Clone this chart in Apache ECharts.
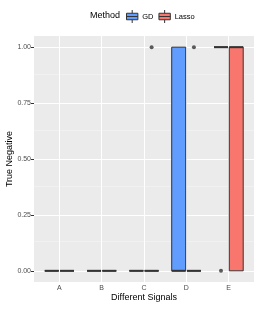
<!DOCTYPE html>
<html><head><meta charset="utf-8">
<script src="https://cdn.jsdelivr.net/npm/echarts@6/dist/echarts.min.js"></script>
<style>html,body{margin:0;padding:0;background:#fff}#c{width:258px;height:309px}</style>
</head><body><div id="c"></div>
<script>
const categories = ['A','B','C','D','E'];
const methods = ['GD','Lasso'];
const methodColors = ['#619CFF','#F8766D'];
// per category: [min, q1, median, q3, max]
const gdStats = [[0,0,0,0,0],[0,0,0,0,0],[0,0,0,0,0],[0,0,0,1,1],[1,1,1,1,1]];
const lassoStats = [[0,0,0,0,0],[0,0,0,0,0],[0,0,0,0,0],[0,0,0,0,0],[0,0,1,1,1]];
const gdOutliers = [[],[],[],[],[0]];
const lassoOutliers = [[],[],[1],[1],[]];
const yTicks = [0,0.25,0.5,0.75,1];
const yMinor = [0.125,0.375,0.625,0.875];

const FONT = 'Liberation Sans, Arial, sans-serif';
const dodge = [-0.18, 0.18];
const halfW = 0.165;
const xPos = categories.map((c,i)=>i+1);

function boxRender(offset){
  return function(params, api){
    const x = api.value(0) + offset;
    const mn = api.value(1), q1 = api.value(2), md = api.value(3), q3 = api.value(4), mx = api.value(5);
    const pL = api.coord([x - halfW, q3]);
    const pR = api.coord([x + halfW, q1]);
    const xc = api.coord([x, 0])[0];
    const ch = [];
    const ls = {stroke:'#333333', lineWidth:1};
    if (mx > q3) ch.push({type:'line', shape:{x1:xc,y1:api.coord([x,q3])[1],x2:xc,y2:api.coord([x,mx])[1]}, style:ls});
    if (mn < q1) ch.push({type:'line', shape:{x1:xc,y1:api.coord([x,q1])[1],x2:xc,y2:api.coord([x,mn])[1]}, style:ls});
    ch.push({type:'rect', shape:{x:pL[0], y:pL[1], width:pR[0]-pL[0], height:pR[1]-pL[1]},
      style:{fill:api.visual('color'), stroke:'#333333', lineWidth:1}});
    const ym = api.coord([x, md])[1];
    ch.push({type:'line', shape:{x1:pL[0], y1:ym, x2:pR[0], y2:ym}, style:{stroke:'#333333', lineWidth:2}});
    return {type:'group', children:ch};
  };
}

function boxData(stats){ return stats.map((s,i)=>[xPos[i]].concat(s)); }
function outData(outs, off){
  const r = [];
  outs.forEach((arr,i)=>arr.forEach(v=>r.push([xPos[i]+off, v])));
  return r;
}

const chart = echarts.init(document.getElementById('c'), null, {renderer:'canvas'});
const iconPath = 'path://M0,4H14V12H0Z M7,0V4 M7,12V16 M0,8H14';
chart.setOption({
  animation:false,
  backgroundColor:'#ffffff',
  title:{text:'Method', left:90, top:11, padding:0, textStyle:{fontFamily:FONT, fontSize:9, fontWeight:'normal', color:'#000'}},
  legend:{
    left:126, top:9.5, padding:0, itemWidth:12, itemHeight:13, itemGap:5,
    textStyle:{fontFamily:FONT, fontSize:7.5, color:'#000', padding:[0,0,0,-1]},
    data: methods.map((m,i)=>({name:m, icon:iconPath, itemStyle:{color:methodColors[i], borderColor:'#333', borderWidth:1}}))
  },
  grid:{left:34, right:4, top:36, bottom:27, show:true, backgroundColor:'#EBEBEB', borderWidth:0,
        containLabel:false, outerBoundsMode:'none'},
  xAxis:{
    type:'value', min:0.4, max:5.6,
    name:'Different Signals', nameLocation:'middle', nameGap:11, nameMoveOverlap:false,
    nameTextStyle:{fontFamily:FONT, fontSize:9, color:'#000'},
    axisLine:{show:false},
    axisTick:{show:true, length:3, lineStyle:{color:'#333', width:1}, customValues:xPos},
    axisLabel:{customValues:xPos, formatter:v=>categories[Math.round(v)-1], fontFamily:FONT, fontSize:7, color:'#4D4D4D', margin:3},
    splitLine:{show:false}
  },
  yAxis:{
    type:'value', min:-0.05, max:1.05,
    name:'True Negative', nameLocation:'middle', nameGap:20, nameRotate:90, nameMoveOverlap:false,
    nameTextStyle:{fontFamily:FONT, fontSize:9, color:'#000'},
    axisLine:{show:false},
    axisTick:{show:true, length:3, lineStyle:{color:'#333', width:1}, customValues:yTicks},
    axisLabel:{customValues:yTicks, formatter:v=>v.toFixed(2), fontFamily:FONT, fontSize:7, color:'#4D4D4D', margin:3},
    splitLine:{show:false}
  },
  series:[
    {name:'grid', type:'line', data:[], silent:true, z:1,
     markLine:{silent:true, symbol:'none', label:{show:false}, animation:false, z:1,
       data: yMinor.map(v=>({yAxis:v, lineStyle:{color:'#F6F6F6', width:0.5, type:'solid'}}))
         .concat(yTicks.map(v=>({yAxis:v, lineStyle:{color:'#FFFFFF', width:1, type:'solid'}})))
         .concat(xPos.map(v=>({xAxis:v, lineStyle:{color:'#FFFFFF', width:1, type:'solid'}})))}},
    {name:'GD', type:'custom', renderItem:boxRender(dodge[0]), data:boxData(gdStats),
     encode:{x:0, y:[1,2,3,4,5]}, itemStyle:{color:methodColors[0]}, z:3},
    {name:'Lasso', type:'custom', renderItem:boxRender(dodge[1]), data:boxData(lassoStats),
     encode:{x:0, y:[1,2,3,4,5]}, itemStyle:{color:methodColors[1]}, z:3},
    {name:'GD outliers', type:'scatter', data:outData(gdOutliers, dodge[0]), symbolSize:4, itemStyle:{color:'#333'}, z:4},
    {name:'Lasso outliers', type:'scatter', data:outData(lassoOutliers, dodge[1]), symbolSize:4, itemStyle:{color:'#333'}, z:4}
  ]
});
</script></body></html>
